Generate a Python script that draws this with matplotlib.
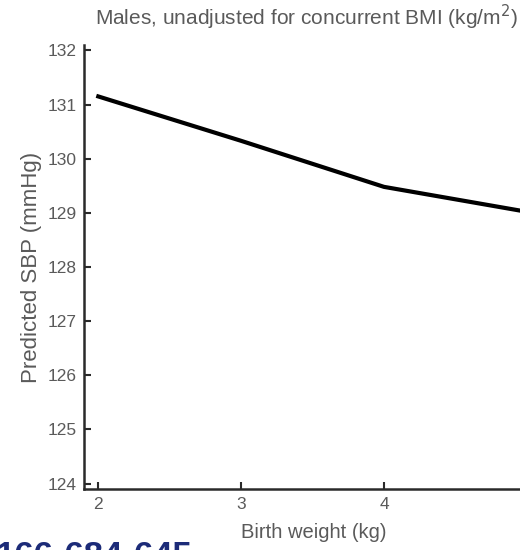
import numpy as np
import matplotlib.pyplot as plt

plt.rcParams['font.family'] = ['Liberation Sans', 'DejaVu Sans']

BIRTH_WEIGHT = [2, 3, 4, 5]
PREDICTED_SBP = [131.15, 130.33, 129.48, 129.02]
X_TICKS = [2, 3, 4, 5]
Y_TICKS = [124, 125, 126, 127, 128, 129, 130, 131, 132]

TEXT_GREY = '#5a5a5a'

fig = plt.figure(figsize=(5.2, 5.5), dpi=100, facecolor='white')
# axes run past the right edge, the last tick is only half shown
ax = fig.add_axes([84 / 520, 1 - 489 / 550, 460 / 520, 444 / 550])

ax.plot(BIRTH_WEIGHT, PREDICTED_SBP, color='black', linewidth=3.0,
        solid_joinstyle='miter')

ax.set_xlim(1.9, 5.12)
ax.set_ylim(123.9, 132.1)
ax.set_xticks(X_TICKS)
ax.set_yticks(Y_TICKS)

for side in ('top', 'right'):
    ax.spines[side].set_visible(False)
for side in ('left', 'bottom'):
    ax.spines[side].set_linewidth(1.8)
    ax.spines[side].set_color('#2a2a2a')

ax.tick_params(direction='in', length=5, width=1.5, color='#2a2a2a',
               labelcolor=TEXT_GREY, labelsize=12.5)
ax.tick_params(axis='x', pad=6)
ax.tick_params(axis='y', pad=5)

ax.set_xlabel('Birth weight (kg)', fontsize=14.5, color=TEXT_GREY, labelpad=8)
ax.set_ylabel('Predicted SBP (mmHg)', fontsize=16, color=TEXT_GREY, labelpad=4)
fig.text(306 / 520, 1 - 17 / 550,
         'Males, unadjusted for concurrent BMI (kg/m$^2$)',
         ha='center', va='center', fontsize=15, color=TEXT_GREY)

# header number at the foot of the page
fig.text(-4 / 520, 1 - 540 / 550, '166-684-645', ha='left', va='top',
         fontsize=25, fontweight='bold', color='#1c2b78')

fig.savefig('out.png', dpi=100, facecolor='white')
